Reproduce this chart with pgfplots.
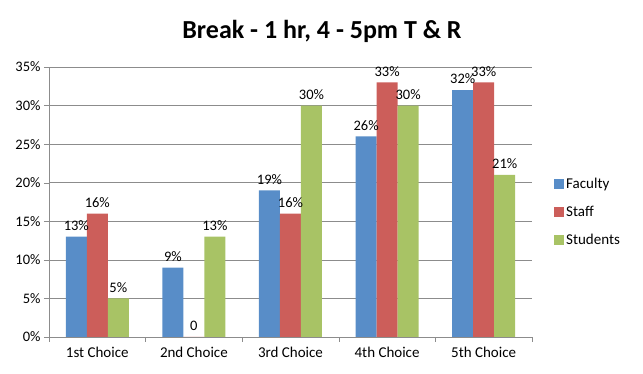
\documentclass[border=0pt]{standalone}
\usepackage{pgfplots}
\pgfplotsset{compat=1.18}
\usepackage{fontspec}
\setmainfont{Carlito}
\definecolor{cFac}{RGB}{88,141,200}
\definecolor{cStaff}{RGB}{204,94,90}
\definecolor{cStud}{RGB}{168,195,101}
\definecolor{gridc}{RGB}{140,140,140}
\begin{document}
\begin{tikzpicture}[x=1pt,y=1pt]
\useasboundingbox (0,0) rectangle (643,374);
\node[font=\fontsize{26}{30}\selectfont\bfseries] at (322,343) {Break - 1 hr, 4 - 5pm T \& R};
\begin{axis}[
  at={(49pt,37pt)}, anchor=south west,
  scale only axis, width=483pt, height=270pt,
  ybar=0pt, bar width=21pt,
  xmin=-0.5, xmax=4.5, ymin=0, ymax=35,
  xtick={0,1,2,3,4},
  xticklabels={1st Choice,2nd Choice,3rd Choice,4th Choice,5th Choice},
  minor xtick={-0.5,0.5,1.5,2.5,3.5,4.5},
  major x tick style={draw=none},
  minor x tick style={draw=gridc},
  minor tick length=5pt,
  ytick={0,5,...,35},
  yticklabel={\pgfmathprintnumber{\tick}\%},
  /pgf/number format/assume math mode=true,
  tick align=outside, major tick length=5pt,
  ymajorgrids, grid style={draw=gridc, line width=0.6pt},
  axis x line*=bottom, axis y line*=left,
  axis line style={draw=gridc, line width=0.8pt, -},
  y tick style={draw=gridc},
  yticklabel style={font=\fontsize{14.5}{16}\selectfont, text=black},
  xticklabel style={font=\fontsize{15}{17}\selectfont, text=black, yshift=-2pt},
  point meta=explicit symbolic,
  nodes near coords,
  every node near coord/.append style={font=\fontsize{14.5}{16}\selectfont, text=black, yshift=5pt, inner sep=1pt},
  legend style={at={(1,0.463)}, anchor=west, xshift=22pt, draw=none, fill=none,
    font=\fontsize{15}{17}\selectfont, row sep=12pt, inner sep=0pt},
  legend cell align=left,
  legend image code/.code={\fill[#1,draw=none] (0pt,-5pt) rectangle (10pt,5pt);},
]
\addplot[fill=cFac, draw=none] coordinates {(0,13) [13\%] (1,9) [9\%] (2,19) [19\%] (3,26) [26\%] (4,32) [32\%]};
\addplot[fill=cStaff, draw=none] coordinates {(0,16) [16\%] (1,0) [0] (2,16) [16\%] (3,33) [33\%] (4,33) [33\%]};
\addplot[fill=cStud, draw=none] coordinates {(0,5) [5\%] (1,13) [13\%] (2,30) [30\%] (3,30) [30\%] (4,21) [21\%]};
\legend{Faculty,Staff,Students}
\end{axis}
\end{tikzpicture}
\end{document}
